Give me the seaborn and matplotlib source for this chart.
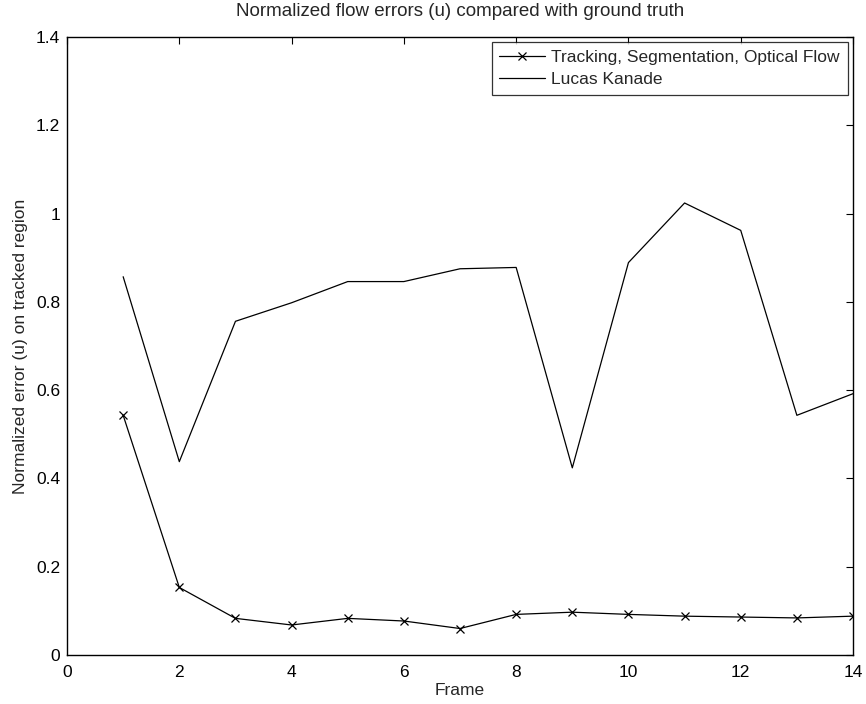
import numpy as np
import pandas as pd
import matplotlib
matplotlib.use('Agg')
import matplotlib.pyplot as plt
import seaborn as sns

# ── data ─────────────────────────────────────────────────────────────────────
frames = [1, 2, 3, 4, 5, 6, 7, 8, 9, 10, 11, 12, 13, 14]
tracking = [0.543, 0.153, 0.083, 0.068, 0.083, 0.077, 0.060,
            0.092, 0.097, 0.092, 0.088, 0.086, 0.084, 0.088]
lucas_kanade = [0.857, 0.438, 0.756, 0.798, 0.846, 0.846, 0.875,
                0.878, 0.424, 0.889, 1.024, 0.962, 0.543, 0.592]

sns.set_theme(style='white')
plt.rcParams['font.family'] = ['Liberation Sans', 'DejaVu Sans']

fs = 12.5

fig = plt.figure(figsize=(8.66, 7.04), dpi=100)
ax = fig.add_axes([0.0774, 0.0696, 0.9076, 0.8778])

sns.lineplot(x=frames, y=tracking, ax=ax, color='black', lw=0.9,
             marker='x', markersize=6, markeredgewidth=0.9,
             markeredgecolor='black',
             label='Tracking, Segmentation, Optical Flow')
sns.lineplot(x=frames, y=lucas_kanade, ax=ax, color='black', lw=0.9,
             label='Lucas Kanade')

ax.set_xlim(0, 14)
ax.set_ylim(0, 1.4)
ax.set_xticks(range(0, 15, 2))
ax.set_yticks([0, 0.2, 0.4, 0.6, 0.8, 1.0, 1.2, 1.4])
ax.set_yticklabels(['0', '0.2', '0.4', '0.6', '0.8', '1', '1.2', '1.4'])
ax.tick_params(direction='in', top=True, right=True, length=5, width=0.8,
               labelsize=fs, colors='black')
ax.tick_params(axis='x', pad=7)
ax.tick_params(axis='y', pad=5)
for s in ax.spines.values():
    s.set_color('black')
    s.set_linewidth(1.0)

ax.set_xlabel('Frame', fontsize=fs, labelpad=2)
ax.set_ylabel('Normalized error (u) on tracked region', fontsize=fs, labelpad=6)
ax.set_title('Normalized flow errors (u) compared with ground truth',
             fontsize=13.5, pad=15)

leg = ax.legend(loc='upper right', fontsize=fs, frameon=True, fancybox=False,
                borderaxespad=0.3, handlelength=2.6, borderpad=0.45,
                labelspacing=0.4, handletextpad=0.4)
leg.get_frame().set_edgecolor('black')
leg.get_frame().set_linewidth(0.9)

fig.savefig('out.png', dpi=100)
